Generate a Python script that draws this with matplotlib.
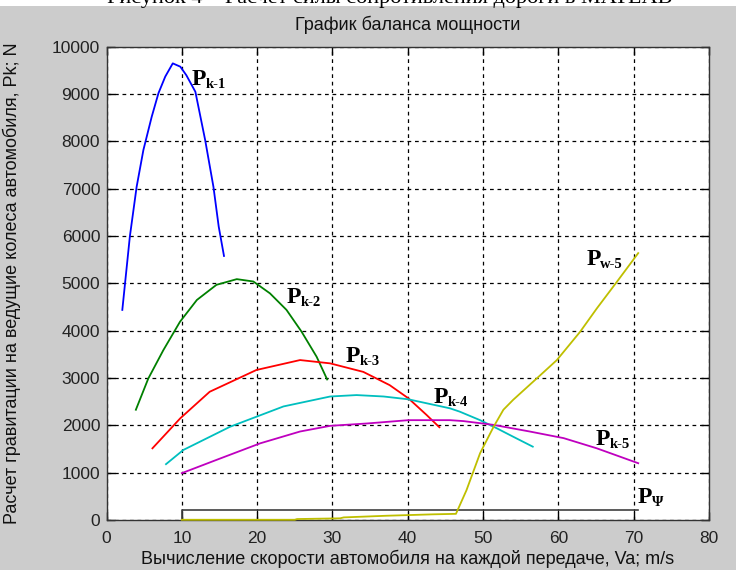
import matplotlib
matplotlib.use("Agg")
import matplotlib.pyplot as plt
from matplotlib.patches import Rectangle

# ---- data ----
v1 = [2.1, 3.1, 4.0, 4.9, 6.0, 6.9, 7.8, 8.8, 9.8, 10.6, 11.8, 13.1, 14.2, 14.9, 15.6]
p1 = [4440, 5990, 7040, 7820, 8520, 9020, 9370, 9650, 9580, 9400, 9050, 8030, 7040, 6200, 5580]

v2 = [3.9, 5.55, 7.55, 9.76, 12.0, 14.6, 17.3, 19.5, 21.7, 23.9, 25.9, 27.9, 29.3]
p2 = [2330, 2990, 3590, 4190, 4650, 4970, 5090, 5040, 4790, 4440, 3980, 3450, 2970]

v3 = [6.1, 9.8, 13.7, 19.9, 25.7, 29.7, 34.1, 37.6, 40.1, 42.5, 44.2]
p3 = [1515, 2150, 2710, 3170, 3380, 3310, 3130, 2850, 2570, 2220, 1960]

v4 = [7.9, 10.2, 16.4, 23.5, 29.7, 33.2, 36.8, 40.1, 45.6, 46.9, 49.6, 51.8, 54.0, 56.6]
p4 = [1180, 1480, 1970, 2400, 2610, 2640, 2610, 2550, 2360, 2290, 2110, 1940, 1760, 1550]

v5 = [10.0, 14.6, 20.4, 25.7, 29.7, 34.6, 40.1, 45.6, 47.4, 51.4, 56.2, 60.7, 65.1, 70.6]
p5 = [990, 1270, 1620, 1870, 1990, 2040, 2110, 2110, 2090, 2010, 1870, 1730, 1515, 1200]

vw = [10.0, 25.0, 25.3, 31.0, 31.5, 37.2, 43.4, 46.4, 47.8, 49.6, 51.4, 52.7, 54.0, 57.6,
      59.8, 62.9, 65.1, 67.8, 70.6]
pw = [5, 5, 20, 35, 55, 90, 120, 130, 630, 1410, 1970, 2330, 2540, 3060, 3380, 3980,
      4470, 5040, 5640]

vpsi = [10.0, 10.0, 70.6]
ppsi = [0, 220, 220]

xticks = [0, 10, 20, 30, 40, 50, 60, 70, 80]
yticks = [0, 1000, 2000, 3000, 4000, 5000, 6000, 7000, 8000, 9000, 10000]

labels = [  # (x, y, subscript)
    (11.35, 9197, "k-1"),
    (23.9, 4581, "k-2"),
    (31.7, 3347, "k-3"),
    (43.4, 2467, "k-4"),
    (64.9, 1586, "k-5"),
    (63.7, 5391, "w-5"),
    (70.5, 353, "Ψ"),
]

title = "График баланса мощности"
xlabel = "Вычисление скорости автомобиля на каждой передаче, Va; m/s"
ylabel = "Расчет гравитации на ведущие колеса автомобиля, Pk; N"
caption = "Рисунок 4 – Расчет силы сопротивления дороги в MATLAB"

# ---- figure ----
plt.rcParams['font.family'] = ['Liberation Sans', 'DejaVu Sans']
W, H = 736, 570
fig = plt.figure(figsize=(W / 100, H / 100), dpi=100, facecolor='#cccccc')
fig.patches.append(Rectangle((0, 1 - 6 / H), 1, 6 / H, transform=fig.transFigure,
                             facecolor='white', edgecolor='none', zorder=0))
fig.text(107 / W, 1 - 3.5 / H, caption, family='Liberation Serif', fontsize=16,
         va='baseline', ha='left', color='black')

ax = fig.add_axes([106.5 / W, (H - 520) / H, (709 - 106.5) / W, (520 - 46.8) / H])
ax.set_facecolor('white')

cols = [(0, 0, 1), (0, 0.5, 0), (1, 0, 0), (0, 0.75, 0.75), (0.75, 0, 0.75),
        (0.75, 0.75, 0), (0.25, 0.25, 0.25)]
lw = 1.3
ax.plot(v1, p1, color=cols[0], lw=lw)
ax.plot(v2, p2, color=cols[1], lw=lw)
ax.plot(v3, p3, color=cols[2], lw=lw)
ax.plot(v4, p4, color=cols[3], lw=lw)
ax.plot(v5, p5, color=cols[4], lw=lw)
ax.plot(vpsi, ppsi, color=cols[6], lw=1.2)
ax.plot(vw, pw, color=cols[5], lw=lw, clip_on=False, zorder=3)

ax.set_xlim(0, 80)
ax.set_ylim(0, 10000)
ax.set_xticks(xticks)
ax.set_yticks(yticks)
ax.grid(True, color='black', linestyle=(0, (3, 3)), linewidth=0.9)
ax.set_axisbelow(True)
ax.tick_params(direction='in', length=6, width=1, top=True, right=True,
               labelsize=12.5, labelcolor='#222222')
ax.tick_params(axis='x', pad=8)
ax.tick_params(axis='y', pad=4.5)
for s in ax.spines.values():
    s.set_color('#333333')
    s.set_linewidth(1.0)

ax.set_xlabel(xlabel, fontsize=13, color='#111111', labelpad=2.5)
ax.set_ylabel(ylabel, fontsize=13, color='#111111')
ax.yaxis.set_label_coords((21 - 106.5) / (709 - 106.5), 0.5)
fig.text(0.5 * (106.5 + 709) / W, 1 - 25 / H, title, fontsize=13, ha='center',
         va='center', color='#111111')

for x, y, sub in labels:
    ax.text(x, y, "P", family='Liberation Serif', fontweight='bold', fontsize=17,
            ha='left', va='baseline', color='black')
    ax.annotate(sub, xy=(x, y), xytext=(14, -3), textcoords='offset pixels',
                family='Liberation Serif', fontweight='bold', fontsize=10.5,
                ha='left', va='baseline', color='black')

fig.savefig('out.png', dpi=100, facecolor=fig.get_facecolor())
